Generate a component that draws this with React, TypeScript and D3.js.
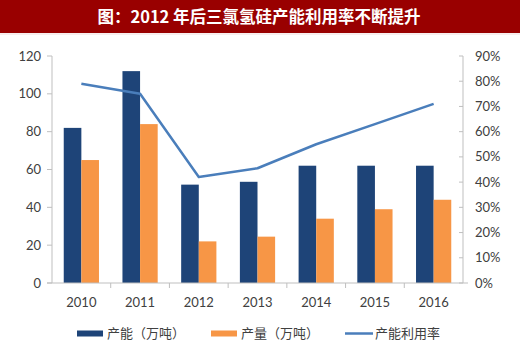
import React from "react";
import * as d3 from "d3";

const title = "图：2012 年后三氯氢硅产能利用率不断提升";
const years = ["2010", "2011", "2012", "2013", "2014", "2015", "2016"];
const capacity = [82, 112, 52, 53.5, 62, 62, 62];
const output = [65, 84, 22, 24.5, 34, 39, 44];
const utilization = [0.79, 0.75, 0.42, 0.455, 0.55, 0.63, 0.71];
const leftTicks = [0, 20, 40, 60, 80, 100, 120];
const rightTicks = [0, 0.1, 0.2, 0.3, 0.4, 0.5, 0.6, 0.7, 0.8, 0.9];
const legendLabels = ["产能（万吨）", "产量（万吨）", "产能利用率"];

const W = 520;
const H = 359;
const M = { left: 52, right: 463, top: 56, bottom: 283 };
const BLUE = "#1e4478";
const ORANGE = "#f79646";
const LINE = "#4a7ebb";
const AXIS = "#bfbfbf";
const TXT = "#404040";
const FONT = "Lato, 'Noto Sans', sans-serif";
const CJK = "'Noto Sans CJK SC', sans-serif";

export default function App() {
  const x = d3.scaleBand<string>().domain(years).range([M.left, M.right]);
  const yL = d3.scaleLinear().domain([0, 120]).range([M.bottom, M.top]);
  const yR = d3.scaleLinear().domain([0, 0.9]).range([M.bottom, M.top]);
  const bw = x.bandwidth() * 0.3;
  const line = d3
    .line<number>()
    .x((_, i) => (x(years[i]) as number) + x.bandwidth() / 2)
    .y((d) => yR(d));

  return (
    <svg width={W} height={H} style={{ display: "block", position: "absolute", left: 0, top: 0 }}>
      <rect x={0} y={0} width={W} height={H} fill="#fff" />
      <rect x={0} y={0} width={W} height={33} fill="#990000" />
      <line x1={0} x2={W} y1={34} y2={34} stroke="#f0dcdc" strokeWidth={1} />
      <text x={259} y={22.5} textAnchor="middle" fill="#fff" fontFamily={CJK} fontWeight={700} fontSize={16.5}>
        {title}
      </text>

      {/* bars */}
      {years.map((yr, i) => {
        const cx = (x(yr) as number) + x.bandwidth() / 2;
        return (
          <g key={yr}>
            <rect x={cx - bw} y={yL(capacity[i])} width={bw} height={M.bottom - yL(capacity[i])} fill={BLUE} />
            <rect x={cx} y={yL(output[i])} width={bw} height={M.bottom - yL(output[i])} fill={ORANGE} />
          </g>
        );
      })}

      {/* axes */}
      <line x1={M.left} x2={M.left} y1={M.top} y2={M.bottom} stroke={AXIS} />
      <line x1={M.right} x2={M.right} y1={M.top} y2={M.bottom} stroke={AXIS} />
      <line x1={M.left - 5} x2={M.right + 5} y1={M.bottom} y2={M.bottom} stroke={AXIS} />
      {leftTicks.map((t) => (
        <g key={"l" + t}>
          <line x1={M.left - 5} x2={M.left} y1={yL(t)} y2={yL(t)} stroke={AXIS} />
          <text x={41} y={yL(t) + 4.5} textAnchor="end" fill={TXT} fontFamily={FONT} fontSize={13}>
            {t}
          </text>
        </g>
      ))}
      {rightTicks.map((t) => (
        <g key={"r" + t}>
          <line x1={M.right - 4} x2={M.right} y1={yR(t)} y2={yR(t)} stroke={AXIS} />
          <text x={475} y={yR(t) + 4.5} textAnchor="start" fill={TXT} fontFamily={FONT} fontSize={13}>
            {Math.round(t * 100) + "%"}
          </text>
        </g>
      ))}
      {years.slice(1).map((yr) => (
        <line key={"xt" + yr} x1={x(yr) as number} x2={x(yr) as number} y1={M.bottom} y2={M.bottom + 5} stroke={AXIS} />
      ))}
      {years.map((yr) => (
        <text key={"xl" + yr} x={(x(yr) as number) + x.bandwidth() / 2} y={307} textAnchor="middle" fill={TXT} fontFamily={FONT} fontSize={13}>
          {yr}
        </text>
      ))}

      {/* line */}
      <path d={line(utilization) || ""} fill="none" stroke={LINE} strokeWidth={2.5} strokeLinejoin="round" />

      {/* legend */}
      <rect x={77} y={330.5} width={26} height={6} fill={BLUE} />
      <text x={107} y={338} fill={TXT} fontFamily={CJK} fontSize={13}>{legendLabels[0]}</text>
      <rect x={211} y={330.5} width={26} height={6} fill={ORANGE} />
      <text x={241} y={338} fill={TXT} fontFamily={CJK} fontSize={13}>{legendLabels[1]}</text>
      <line x1={345} x2={373} y1={333.5} y2={333.5} stroke={LINE} strokeWidth={2.5} />
      <text x={375} y={338} fill={TXT} fontFamily={CJK} fontSize={13}>{legendLabels[2]}</text>
    </svg>
  );
}
